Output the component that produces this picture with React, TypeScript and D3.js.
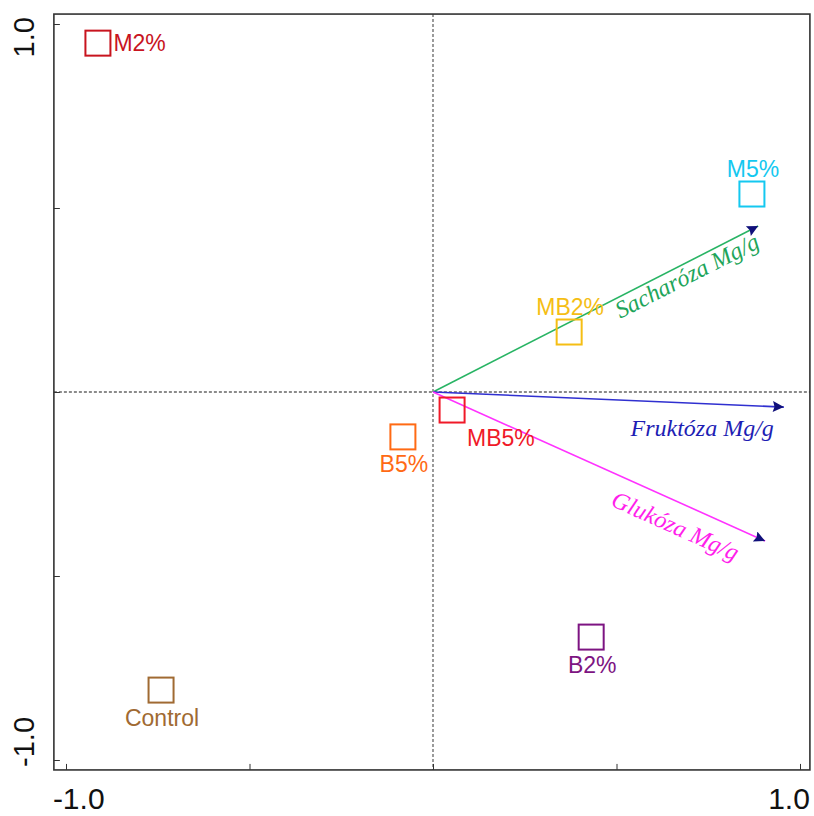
import React, { useEffect, useRef } from "react";
import * as d3 from "d3";

// samples (squares)
const sampleNames = ["M2%", "M5%", "MB2%", "MB5%", "B5%", "B2%", "Control"];
const sampleX = [-0.913, 0.869, 0.371, 0.052, -0.082, 0.431, -0.741];
const sampleY = [0.948, 0.538, 0.163, -0.049, -0.122, -0.666, -0.81];
const sampleColors = ["#C8141E", "#14C8F0", "#F5BE14", "#F01928", "#FF6A14", "#7D1482", "#A06A32"];
const sampleLabelPos = ["right", "above", "above", "belowRight", "below", "below", "below"];

// variables (arrows)
const varNames = ["Sacharóza Mg/g", "Fruktóza Mg/g", "Glukóza Mg/g"];
const varX = [0.886, 0.956, 0.905];
const varY = [0.451, -0.041, -0.405];
const varLineColors = ["#28B464", "#3030D0", "#FF32FF"];
const varTextColors = ["#1EA55A", "#1E1EB4", "#FF1EEB"];

const tickValues = [-1, -0.5, 0, 0.5, 1];

const App = () => {
  const ref = useRef<SVGSVGElement>(null);

  useEffect(() => {
    document.body.style.margin = "0";
    const svg = d3.select(ref.current);
    svg.selectAll("*").remove();

    const x = d3.scaleLinear().domain([-1, 1]).range([66, 800]);
    const y = d3.scaleLinear().domain([-1, 1]).range([760, 24]);
    const x0 = x(-1.033), x1 = x(1.027);
    const y0 = y(-1.027), y1 = y(1.027);

    svg.append("defs").append("marker")
      .attr("id", "head")
      .attr("viewBox", "0 0 10 10")
      .attr("refX", 10).attr("refY", 5)
      .attr("markerWidth", 16).attr("markerHeight", 11)
      .attr("markerUnits", "userSpaceOnUse")
      .attr("orient", "auto")
      .append("path").attr("d", "M0,0L10,5L0,10L1.5,5Z").attr("fill", "#10107A");

    // zero lines
    svg.append("line")
      .attr("x1", x(0)).attr("x2", x(0)).attr("y1", y1).attr("y2", y0)
      .attr("stroke", "#666").attr("stroke-width", 1.3).attr("stroke-dasharray", "3,2");
    svg.append("line")
      .attr("x1", x0).attr("x2", x1).attr("y1", y(0)).attr("y2", y(0))
      .attr("stroke", "#666").attr("stroke-width", 1.3).attr("stroke-dasharray", "3,2");

    // axes ticks
    svg.append("g")
      .attr("transform", `translate(0,${y0})`)
      .call(d3.axisBottom(x).tickValues(tickValues).tickSizeInner(-6).tickSizeOuter(0).tickFormat(() => ""))
      .call((g) => g.select(".domain").remove())
      .call((g) => g.selectAll("line").attr("stroke", "#333"));
    svg.append("g")
      .attr("transform", `translate(${x0},0)`)
      .call(d3.axisLeft(y).tickValues(tickValues).tickSizeInner(-6).tickSizeOuter(0).tickFormat(() => ""))
      .call((g) => g.select(".domain").remove())
      .call((g) => g.selectAll("line").attr("stroke", "#333"));

    // frame
    svg.append("rect")
      .attr("x", x0).attr("y", y1).attr("width", x1 - x0).attr("height", y0 - y1)
      .attr("fill", "none").attr("stroke", "#333").attr("stroke-width", 1.6);

    // axis labels
    const axFont = "'Liberation Sans', Arial, sans-serif";
    svg.append("text").text("-1.0").attr("x", x0 - 1).attr("y", 809)
      .attr("font-family", axFont).attr("font-size", 30).attr("fill", "#111");
    svg.append("text").text("1.0").attr("x", x1).attr("y", 809).attr("text-anchor", "end")
      .attr("font-family", axFont).attr("font-size", 30).attr("fill", "#111");
    svg.append("text").text("1.0").attr("text-anchor", "end")
      .attr("transform", `translate(34,${y1 + 3}) rotate(-90)`)
      .attr("font-family", axFont).attr("font-size", 29).attr("fill", "#111");
    svg.append("text").text("-1.0").attr("text-anchor", "start")
      .attr("transform", `translate(34,${y0 - 3}) rotate(-90)`)
      .attr("font-family", axFont).attr("font-size", 29).attr("fill", "#111");

    // arrows
    const serif = "'Liberation Serif', 'Times New Roman', serif";
    varNames.forEach((name, i) => {
      const tx = x(varX[i]), ty = y(varY[i]);
      svg.append("line")
        .attr("x1", x(0)).attr("y1", y(0)).attr("x2", tx).attr("y2", ty)
        .attr("stroke", varLineColors[i]).attr("stroke-width", 1.6)
        .attr("marker-end", "url(#head)");
      const ang = (Math.atan2(ty - y(0), tx - x(0)) * 180) / Math.PI;
      const t = svg.append("text").text(name)
        .attr("font-family", serif).attr("font-style", "italic")
        .attr("font-size", 24).attr("fill", varTextColors[i]);
      if (i === 1) {
        t.attr("x", tx - 10).attr("y", ty + 29).attr("text-anchor", "end");
      } else if (i === 0) {
        t.attr("text-anchor", "middle")
          .attr("transform", `translate(${tx},${ty}) rotate(${ang}) translate(-86,20)`);
      } else {
        t.attr("text-anchor", "middle")
          .attr("transform", `translate(${tx},${ty}) rotate(${ang}) translate(-88,31)`);
      }
    });

    // samples
    const s = 25;
    const sansFont = "'Liberation Sans', Arial, sans-serif";
    sampleNames.forEach((name, i) => {
      const cx = x(sampleX[i]), cy = y(sampleY[i]);
      svg.append("rect")
        .attr("x", cx - s / 2).attr("y", cy - s / 2).attr("width", s).attr("height", s)
        .attr("fill", "none").attr("stroke", sampleColors[i]).attr("stroke-width", 2);
      const t = svg.append("text").text(name)
        .attr("font-family", sansFont).attr("font-size", 23).attr("fill", sampleColors[i]);
      const pos = sampleLabelPos[i];
      if (pos === "right") {
        t.attr("x", cx + s / 2 + 3).attr("y", cy + 8);
      } else if (pos === "above") {
        t.attr("x", cx + 1).attr("y", cy - s / 2 - 5).attr("text-anchor", "middle");
      } else if (pos === "belowRight") {
        t.attr("x", cx + 15).attr("y", cy + 36);
      } else {
        t.attr("x", cx + 1).attr("y", cy + s / 2 + 23).attr("text-anchor", "middle");
      }
    });
  }, []);

  return <svg ref={ref} width={814} height={816} style={{ display: "block" }}></svg>;
};

export default App;
